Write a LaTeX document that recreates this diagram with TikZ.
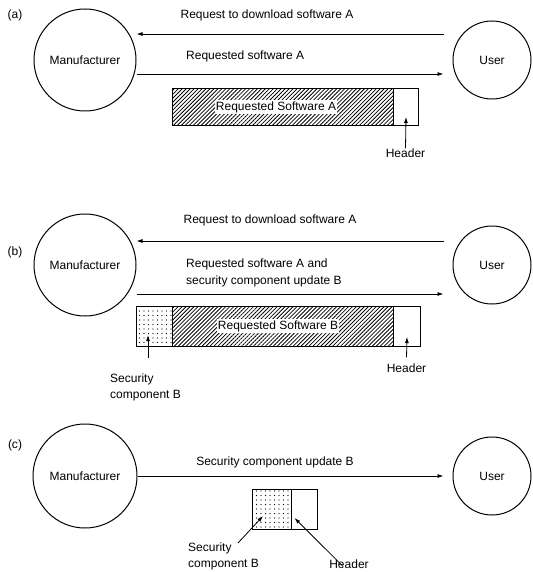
\documentclass[tikz,border=0pt]{standalone}
\usepackage{fontspec}
\setmainfont{Liberation Sans}
\usetikzlibrary{arrows.meta,patterns.meta}
\begin{document}
\begin{tikzpicture}[x=1pt,y=-1pt,
  every node/.style={font=\fontsize{12}{16}\selectfont},
  party/.style={circle,draw,line width=1pt,inner sep=0pt},
  arr/.style={line width=0.8pt,-{Latex[length=6pt,width=4pt]}},
  hatchbox/.style={draw,line width=1pt,pattern={Lines[angle=45,distance=2.8pt,line width=0.8pt]},anchor=north west,inner sep=0pt},
  dotbox/.style={draw,line width=1pt,pattern={Dots[distance=4.5pt,radius=0.6pt]},anchor=north west,inner sep=0pt},
  hdrbox/.style={draw,line width=1pt,fill=white,anchor=north west,inner sep=0pt},
  txt/.style={inner sep=0pt},
  onhatch/.style={fill=white,inner sep=1pt},
]
\useasboundingbox (0,0) rectangle (532,572);

% ---------- (a)
\node[txt] (la) at (15,15) {(a)};
\node[party,minimum size=102pt] (Ma) at (85,60) {Manufacturer};
\node[party,minimum size=78pt] (Ua) at (492,60) {User};
\node[txt] (qa) at (267,15) {Request to download software A};
\draw[arr] ([xshift=-9pt,yshift=26pt]Ua.west) -- ([yshift=26pt]Ma.east);
\node[txt,anchor=west] (ra) at (186,56) {Requested software A};
\draw[arr] ([yshift=-14pt]Ma.east) -- ([xshift=-9pt,yshift=-14pt]Ua.west);
\node[hatchbox,minimum width=221pt,minimum height=37pt] (swA) at (172,88) {};
\node[hdrbox,minimum width=25pt,minimum height=37pt] (hdrA) at (393,88) {};
\node[onhatch] (tA) at (276,107) {Requested Software A};
\node[txt] (hla) at (405.5,153) {Header};
\draw[arr] (hla.north) -- ([yshift=9pt]hdrA.south);

% ---------- (b)
\node[txt] (lb) at (15,252) {(b)};
\node[party,minimum size=102pt] (Mb) at (85,265) {Manufacturer};
\node[party,minimum size=78pt] (Ub) at (492,265) {User};
\node[txt] (qb) at (270,220) {Request to download software A};
\draw[arr] ([xshift=-9pt,yshift=24pt]Ub.west) -- ([yshift=24pt]Mb.east);
\node[txt,anchor=west,align=left,font=\fontsize{12}{17}\selectfont] (rb) at (186,273) {Requested software A and\\security component update B};
\draw[arr] ([yshift=-29pt]Mb.east) -- ([xshift=-9pt,yshift=-29pt]Ub.west);
\node[dotbox,minimum width=36pt,minimum height=40pt] (dotB) at (136,306) {};
\node[hatchbox,minimum width=221pt,minimum height=40pt] (swB) at (172,306) {};
\node[hdrbox,minimum width=27pt,minimum height=40pt] (hdrB) at (393,306) {};
\node[onhatch] (tB) at (278,326) {Requested Software B};
\node[txt,anchor=north west,align=left] (secB) at (110,374) {Security\\component B};
\draw[arr] ([xshift=38pt,yshift=16pt]secB.north west) -- ([xshift=12pt,yshift=12pt]dotB.south west);
\node[txt] (hlb) at (406.5,368) {Header};
\draw[arr] ([yshift=6pt]hlb.north) -- ([yshift=10pt]hdrB.south);

% ---------- (c)
\node[txt] (lc) at (15,445) {(c)};
\node[party,minimum size=104pt] (Mc) at (85,476) {Manufacturer};
\node[party,minimum size=78pt] (Uc) at (492,476) {User};
\node[txt] (qc) at (275,462) {Security component update B};
\draw[arr] (Mc.east) -- ([xshift=-9pt]Uc.west);
\node[dotbox,minimum width=39pt,minimum height=40pt] (dotC) at (252,489) {};
\node[hdrbox,minimum width=26pt,minimum height=40pt] (hdrC) at (291,489) {};
\node[txt,anchor=north west,align=left] (secC) at (188,543) {Security\\component B};
\draw[arr] ([xshift=50pt]secC.north west) -- ([xshift=11pt,yshift=14pt]dotC.south west);
\node[txt] (hlc) at (349,564) {Header};
\draw[arr] ([xshift=-6pt,yshift=-7pt]hlc.north) -- ([xshift=-10pt,yshift=12pt]hdrC.south);
\end{tikzpicture}
\end{document}
